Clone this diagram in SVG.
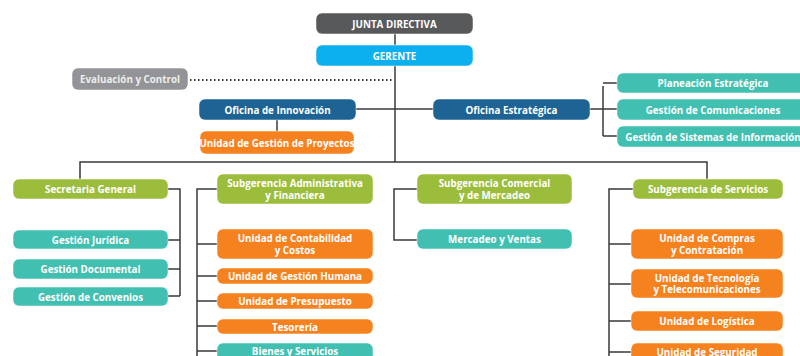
<svg xmlns="http://www.w3.org/2000/svg" width="800" height="356" viewBox="0 0 800 356">
<style>
.b{stroke:#ffffff;stroke-opacity:0.5;stroke-width:1}
.g{fill:#58595b}.c{fill:#0db0ee}.e{fill:#929497}.d{fill:#1d6393}.o{fill:#f5821f}.t{fill:#41c0b2}.v{fill:#9cbd3b}
text{font-family:"Open Sans","Liberation Sans",sans-serif;font-weight:700;font-size:9.8px;fill:#ffffff;text-anchor:middle;dominant-baseline:central}
.l{fill:none;stroke:#3a3a3a;stroke-width:1.5}
.dot{fill:none;stroke:#3a3a3a;stroke-width:2;stroke-dasharray:1.5 2.5}
</style>
<rect width="800" height="356" fill="#ffffff"/>
<g id="connectors">
<path class="l" d="M395 34V162"/>
<path class="dot" d="M190 80H394"/>
<path class="l" d="M356 109H433"/>
<path class="l" d="M277 120V131"/>
<path class="l" d="M590 109H603M603 86V136M603 83H617M603 109H617M603 136H617"/>
<path class="l" d="M80 179V162H707V179"/>
<path class="l" d="M168 189H180V296M180 240H168M180 269H168M180 296H168"/>
<path class="l" d="M217 189H197V356M197 244H217M197 276H217M197 301H217M197 326H217M197 351H217"/>
<path class="l" d="M417 189H394V240H417"/>
<path class="l" d="M633 189H609V356M609 244H631M609 284H631M609 321H631M609 352H631"/>
</g>
<g id="junta"><rect class="g b" x="316" y="13" width="157" height="21" rx="6"/><text x="394.5" y="24">JUNTA DIRECTIVA</text></g>
<g id="gerente"><rect class="c b" x="316" y="45" width="157" height="21" rx="6"/><text x="394.5" y="56">GERENTE</text></g>
<g id="evaluacion"><rect class="e b" x="72" y="68" width="116" height="22" rx="6"/><text x="130" y="79.5" style="fill:#eeeeee">Evaluación y Control</text></g>
<g id="innovacion"><rect class="d b" x="199" y="99" width="157" height="21" rx="6"/><text x="277.5" y="110">Oficina de Innovación</text></g>
<g id="proyectos"><rect class="o b" x="200" y="131" width="154" height="23" rx="6"/><text x="277" y="143">Unidad de Gestión de Proyectos</text></g>
<g id="estrategica"><rect class="d b" x="433" y="99" width="157" height="21" rx="6"/><text x="511.5" y="110">Oficina Estratégica</text></g>
<g id="planeacion"><rect class="t b" x="617" y="73" width="192" height="20" rx="6"/><text x="713" y="83.5">Planeación Estratégica</text></g>
<g id="comunicaciones"><rect class="t b" x="617" y="99" width="192" height="21" rx="6"/><text x="713" y="110">Gestión de Comunicaciones</text></g>
<g id="sistemas"><rect class="t b" x="617" y="126" width="192" height="21" rx="6"/><text x="713" y="137">Gestión de Sistemas de Información</text></g>
<g id="secretaria"><rect class="v b" x="13" y="179" width="155" height="20" rx="6"/><text x="90.5" y="189.5">Secretaria General</text></g>
<g id="juridica"><rect class="t b" x="13" y="230" width="155" height="19" rx="6"/><text x="90.5" y="240">Gestión Jurídica</text></g>
<g id="documental"><rect class="t b" x="13" y="259" width="155" height="20" rx="6"/><text x="90.5" y="269.5">Gestión Documental</text></g>
<g id="convenios"><rect class="t b" x="13" y="287" width="155" height="19" rx="6"/><text x="90.5" y="297">Gestión de Convenios</text></g>
<g id="sub-admin"><rect class="v b" x="217" y="174" width="156" height="30" rx="6"/><text x="295" y="183.5">Subgerencia Administrativa</text><text x="295" y="195">y Financiera</text></g>
<g id="contabilidad"><rect class="o b" x="217" y="229" width="156" height="30" rx="6"/><text x="295" y="238.5">Unidad de Contabilidad</text><text x="295" y="250">y Costos</text></g>
<g id="humana"><rect class="o b" x="217" y="268" width="156" height="16" rx="6"/><text x="295" y="276.5">Unidad de Gestión Humana</text></g>
<g id="presupuesto"><rect class="o b" x="217" y="293" width="156" height="16" rx="6"/><text x="295" y="301.5">Unidad de Presupuesto</text></g>
<g id="tesoreria"><rect class="o b" x="217" y="319" width="156" height="15" rx="6"/><text x="295" y="327">Tesorería</text></g>
<g id="bienes"><rect class="t b" x="217" y="343" width="156" height="20" rx="6"/><text x="295" y="351">Bienes y Servicios</text></g>
<g id="sub-comercial"><rect class="v b" x="417" y="174" width="155" height="30" rx="6"/><text x="494.5" y="183.5">Subgerencia Comercial</text><text x="494.5" y="195">y de Mercadeo</text></g>
<g id="mercadeo"><rect class="t b" x="417" y="229" width="155" height="20" rx="6"/><text x="494.5" y="239.5">Mercadeo y Ventas</text></g>
<g id="sub-servicios"><rect class="v b" x="633" y="179" width="150" height="20" rx="6"/><text x="708" y="189.5">Subgerencia de Servicios</text></g>
<g id="compras"><rect class="o b" x="631" y="229" width="152" height="30" rx="6"/><text x="707" y="238.5">Unidad de Compras</text><text x="707" y="250">y Contratación</text></g>
<g id="tecnologia"><rect class="o b" x="631" y="269" width="152" height="29" rx="6"/><text x="707" y="278">Unidad de Tecnología</text><text x="707" y="289.5">y Telecomunicaciones</text></g>
<g id="logistica"><rect class="o b" x="631" y="311" width="152" height="20" rx="6"/><text x="707" y="321.5">Unidad de Logística</text></g>
<g id="seguridad"><rect class="o b" x="631" y="343" width="152" height="20" rx="6"/><text x="707" y="352">Unidad de Seguridad</text></g>
</svg>
